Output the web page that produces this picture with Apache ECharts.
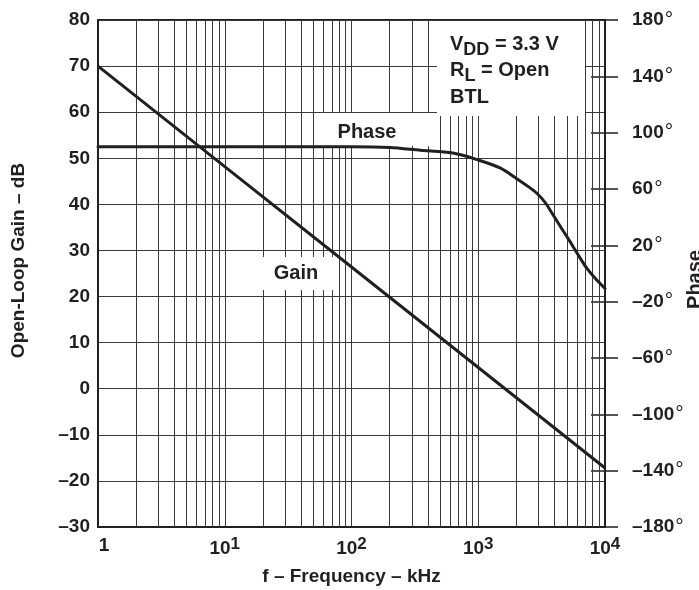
<!DOCTYPE html>
<html>
<head>
<meta charset="utf-8">
<script src="https://cdn.jsdelivr.net/npm/echarts@6/dist/echarts.min.js"></script>
<style>html,body{margin:0;padding:0;background:#fff}#c{width:699px;height:590px}</style>
</head>
<body>
<div id="c"></div>
<script>
// ---- data ----
const gainFreq = [1, 10, 100, 1000, 10000];
const gainDb = [70, 48.2, 26.4, 4.6, -17.2];
const phaseFreq = [1, 10, 100, 200, 350, 630, 1000, 1500, 2000, 2500, 2900, 3400, 3900, 4550, 5300, 6150, 7200, 8300, 10000];
const phaseDeg = [90, 90, 90, 89.5, 87.5, 85.5, 80.6, 74.8, 67.5, 61.5, 57, 50, 41.5, 32, 22.6, 13.1, 3.6, -3.0, -10.6];
const phaseTicks = [-180, -140, -100, -60, -20, 20, 60, 100, 140, 180];
const minorFreq = [2, 3, 4, 5, 6, 7, 8, 9, 20, 30, 40, 50, 60, 70, 80, 90, 200, 300, 400, 500, 600, 700, 800, 900, 2000, 3000, 4000, 5000, 6000, 7000, 8000, 9000];
const legendLines = ['V{s|DD} = 3.3 V', 'R{s|L} = Open', 'BTL'];

const INK = '#231f20';
const GRIDC = '#3a3a3a';
const FONT = '"Liberation Sans", Arial, Helvetica, sans-serif';

const chart = echarts.init(document.getElementById('c'), null, {renderer: 'canvas'});
const dash = v => (v < 0 ? '\u2013' + Math.abs(v) : String(v));

const option = {
  animation: false,
  backgroundColor: '#fff',
  textStyle: {fontFamily: FONT},
  grid: {left: 98, top: 20, width: 507, height: 507, show: true, borderWidth: 2, borderColor: INK, backgroundColor: 'transparent', containLabel: false, outerBoundsMode: 'none'},
  xAxis: {
    type: 'log', logBase: 10, min: 1, max: 10000,
    name: 'f \u2013 Frequency \u2013 kHz', nameLocation: 'middle', nameGap: 40,
    nameTextStyle: {fontSize: 19, fontWeight: 'bold', color: INK, fontFamily: FONT},
    axisLine: {show: true, onZero: false, lineStyle: {color: INK, width: 2}},
    axisTick: {show: false},
    splitLine: {show: true, lineStyle: {color: GRIDC, width: 1}},
    axisLabel: {
      margin: 9, color: INK,
      formatter: v => {
        const e = Math.round(Math.log10(v));
        return e === 0 ? '{one|1}' : '{b|10}{sup|' + e + '}';
      },
      rich: {
        one: {fontSize: 19, fontWeight: 'bold', color: INK, fontFamily: FONT, padding: [0, 0, 0, 12]},
        b: {fontSize: 19, fontWeight: 'bold', color: INK, fontFamily: FONT},
        sup: {fontSize: 17, fontWeight: 'bold', color: INK, fontFamily: FONT, padding: [0, 0, 9, 0]}
      }
    }
  },
  yAxis: [
    {
      type: 'value', min: -30, max: 80, interval: 10,
      name: 'Open-Loop Gain \u2013 dB', nameLocation: 'middle', nameGap: 70, nameRotate: 90,
      nameTextStyle: {fontSize: 19, fontWeight: 'bold', color: INK, fontFamily: FONT, padding: [0, 0, 0, 26]},
      axisLine: {show: true, lineStyle: {color: INK, width: 2}},
      axisTick: {show: false},
      splitLine: {show: true, lineStyle: {color: GRIDC, width: 1}},
      axisLabel: {margin: 8, color: INK, fontSize: 19, fontWeight: 'bold', fontFamily: FONT, formatter: dash}
    },
    {
      type: 'value', min: -180, max: 180, position: 'right',
      name: 'Phase', nameLocation: 'middle', nameGap: 80, nameRotate: 90, nameMoveOverlap: false,
      nameTextStyle: {fontSize: 20, fontWeight: 'bold', color: INK, fontFamily: FONT, padding: [0, 12, 0, 0]},
      axisLine: {show: true, lineStyle: {color: INK, width: 2}},
      axisTick: {show: true, inside: false, length: 13, customValues: phaseTicks, lineStyle: {color: INK, width: 1.5}},
      splitLine: {show: false},
      axisLabel: {
        margin: 27, color: INK, customValues: phaseTicks,
        formatter: v => '{n|' + dash(v) + '}{d|\u00b0}',
        rich: {
          n: {fontSize: 19, fontWeight: 'bold', color: INK, fontFamily: FONT},
          d: {fontSize: 21, fontWeight: 'normal', color: INK, fontFamily: FONT, padding: [0, 0, 0, 1]}
        }
      }
    },
    {
      type: 'value', min: -180, max: 180, position: 'right',
      axisLine: {show: false},
      axisTick: {show: true, inside: true, length: 14, customValues: phaseTicks, lineStyle: {color: INK, width: 1.5}},
      splitLine: {show: false},
      axisLabel: {show: false}
    }
  ],
  series: [
    {
      type: 'line', name: 'minor', data: [], z: 1, silent: true,
      markLine: {
        z: 1, silent: true, symbol: ['none', 'none'], label: {show: false}, animation: false,
        lineStyle: {color: GRIDC, width: 1, type: 'solid'},
        data: minorFreq.map(f => ({xAxis: f}))
      }
    },
    {
      type: 'line', name: 'Gain', yAxisIndex: 0, z: 5, symbol: 'none',
      lineStyle: {color: INK, width: 3},
      data: gainFreq.map((f, i) => [f, gainDb[i]])
    },
    {
      type: 'line', name: 'Phase', yAxisIndex: 1, z: 5, symbol: 'none', smooth: 0.3,
      lineStyle: {color: INK, width: 3, join: 'round', cap: 'round'},
      data: phaseFreq.map((f, i) => [f, phaseDeg[i]])
    }
  ],
  graphic: [
    {type: 'rect', z: 3, shape: {x: 437, y: 21, width: 148, height: 95}, style: {fill: '#fff'}},
    {type: 'rect', z: 3, shape: {x: 316, y: 113, width: 118, height: 33}, style: {fill: '#fff'}},
    {type: 'rect', z: 3, shape: {x: 262, y: 257, width: 74, height: 33}, style: {fill: '#fff'}},
    {type: 'text', z: 10, x: 367, y: 132, style: {text: 'Phase', align: 'center', verticalAlign: 'middle', fill: INK, font: 'bold 20px ' + FONT}},
    {type: 'text', z: 10, x: 296, y: 273, style: {text: 'Gain', align: 'center', verticalAlign: 'middle', fill: INK, font: 'bold 20px ' + FONT}},
    ...legendLines.map((t, i) => ({
      type: 'text', z: 10, x: 450, y: 44 + i * 26.5,
      style: {
        text: t, align: 'left', verticalAlign: 'middle', fill: INK, font: 'bold 20px ' + FONT,
        rich: {
          s: {fontSize: 18, fontWeight: 'bold', fontFamily: FONT, fill: INK, padding: [12, 0, 0, 0]}
        }
      }
    }))
  ]
};
chart.setOption(option);
</script>
</body>
</html>
